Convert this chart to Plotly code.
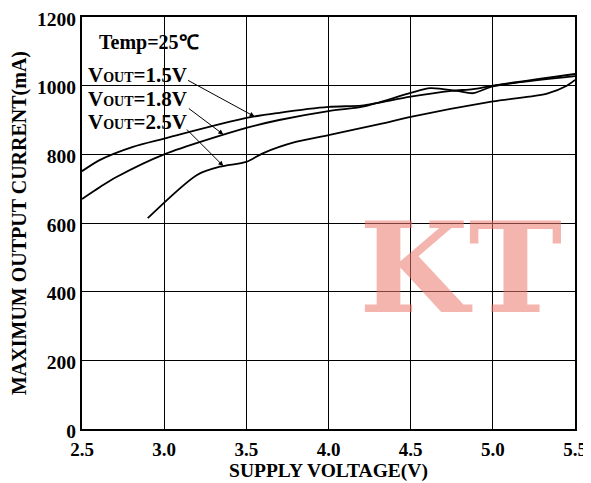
import plotly.graph_objects as go

# Supply voltage (V) / max output current (mA)
v_15 = [2.5, 2.61, 2.81, 3.0, 3.5, 3.7, 4.0, 4.2, 4.3, 4.5, 4.75, 4.88, 5.0, 5.5]
i_15 = [751, 784, 822, 846, 906, 921, 938, 942, 950, 968, 985, 990, 1000, 1034]

v_18 = [2.5, 2.61, 2.71, 3.0, 3.5, 3.7, 4.0, 4.2, 4.3, 4.5, 4.62, 4.78, 4.88, 5.0, 5.5]
i_18 = [670, 705, 734, 800, 877, 900, 926, 938, 950, 979, 993, 985, 978, 998, 1028]

v_25 = [2.9, 3.2, 3.34, 3.5, 3.6, 3.8, 4.0, 4.31, 4.5, 5.0, 5.33, 5.45, 5.5]
i_25 = [614, 740, 764, 778, 803, 836, 856, 888, 909, 954, 977, 1000, 1017]

x_ticks = [2.5, 3.0, 3.5, 4.0, 4.5, 5.0, 5.5]
y_ticks = [0, 200, 400, 600, 800, 1000, 1200]

FONT = "Liberation Serif, Times New Roman, serif"


def bfont(size, family=FONT, color="black"):
    return dict(family=family, size=size, color=color, weight="bold")


fig = go.Figure()
for name, xs, ys in [("1.5V", v_15, i_15), ("1.8V", v_18, i_18), ("2.5V", v_25, i_25)]:
    fig.add_trace(go.Scatter(x=xs, y=ys, mode="lines", name=name,
                             line=dict(color="black", width=1.8, shape="spline", smoothing=0.8),
                             showlegend=False, hoverinfo="skip"))

anns = []
# watermark
anns.append(dict(text="KT", xref="paper", yref="paper", x=0.558, y=0.39,
                 xanchor="left", yanchor="middle", showarrow=False,
                 font=bfont(126, family="DejaVu Serif", color="rgba(235,120,110,0.55)")))
anns.append(dict(text="Temp=25℃", xref="paper", yref="paper", x=0.03, y=0.938,
                 xanchor="left", yanchor="middle", showarrow=False, font=bfont(20)))
labels = [("1.5V", 0.86), ("1.8V", 0.802), ("2.5V", 0.746)]
for lab, yy in labels:
    anns.append(dict(text="V<span style='font-size:14px'>OUT</span>=" + lab,
                     xref="paper", yref="paper", x=0.008, y=yy,
                     xanchor="left", yanchor="middle", showarrow=False, font=bfont(21)))
# arrows to the curves
arrows = [(3.55, 910, -68, -37), (3.36, 858, -36, -27), (3.36, 766, -38, -38)]
for x, y, ax, ay in arrows:
    anns.append(dict(x=x, y=y, xref="x", yref="y", ax=ax, ay=ay, text="",
                     showarrow=True, arrowhead=2, arrowsize=1, arrowwidth=1,
                     arrowcolor="black"))

fig.update_layout(
    width=583, height=475,
    margin=dict(l=74, r=16, t=9, b=54),
    paper_bgcolor="white", plot_bgcolor="white",
    annotations=anns,
    font=dict(family=FONT, color="black"),
)
fig.update_xaxes(range=[2.5, 5.5], tickvals=x_ticks, ticktext=[f"{v:.1f}" for v in x_ticks],
                 showgrid=True, gridcolor="black", gridwidth=1,
                 showline=True, linecolor="black", linewidth=2, mirror=True,
                 zeroline=False, ticks="", tickfont=bfont(19), automargin=False,
                 ticklabeloverflow="allow", ticklabelstandoff=2,
                 title=dict(text="SUPPLY VOLTAGE(V)", font=bfont(19.5), standoff=1))
fig.update_yaxes(range=[0, 1200], tickvals=y_ticks,
                 showgrid=True, gridcolor="black", gridwidth=1,
                 showline=True, linecolor="black", linewidth=2, mirror=True,
                 zeroline=False, ticks="", tickfont=bfont(19.5), automargin=False,
                 ticklabeloverflow="allow", ticklabelshift=2,
                 title=dict(text="MAXIMUM OUTPUT CURRENT(mA)", font=bfont(20), standoff=6))

fig.write_html("out.html")
